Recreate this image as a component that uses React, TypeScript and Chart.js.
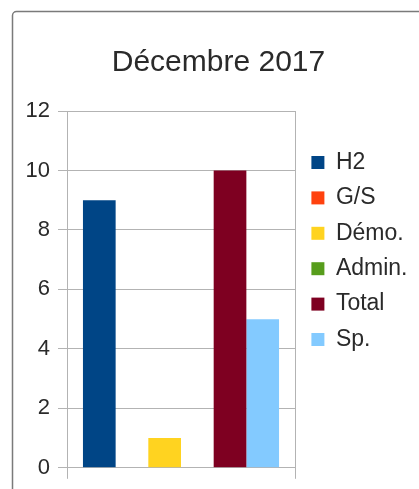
import React, { useEffect, useRef } from "react";
import { Chart, registerables } from "chart.js";

Chart.register(...registerables);

const categories = [""];
const seriesNames = ["H2", "G/S", "Démo.", "Admin.", "Total", "Sp."];
const seriesValues = [[9], [0], [1], [0], [10], [5]];
const seriesColors = ["#004586", "#ff420e", "#ffd320", "#579d1c", "#7e0021", "#83caff"];
const yTicks = [0, 2, 4, 6, 8, 10, 12];
const titleText = "Décembre 2017";

const framePlugin = {
  id: "frame",
  beforeUpdate(chart: any) {
    const lg = chart.legend;
    if (lg && !lg.__patched) {
      const orig = lg.fit;
      lg.fit = function () {
        orig.call(this);
        this.width = 112;
      };
      lg.__patched = true;
    }
  },
  afterLayout(chart: any) {
    const t = chart.titleBlock;
    if (t) {
      t.left += 9;
      t.right += 9;
    }
    const lg = chart.legend;
    if (lg) {
      lg.left += 4;
      lg.right += 4;
    }
  },
  beforeDraw(chart: any) {
    const ctx = chart.ctx;
    ctx.save();
    ctx.fillStyle = "#ffffff";
    ctx.fillRect(0, 0, chart.width, chart.height);
    ctx.strokeStyle = "#7a7a7a";
    ctx.lineWidth = 1.5;
    ctx.beginPath();
    (ctx as any).roundRect(12.5, 11.5, 440, 500, 4);
    ctx.stroke();
    ctx.restore();
  },
};

export default function App() {
  const ref = useRef<HTMLCanvasElement>(null);
  useEffect(() => {
    if (!ref.current) return;
    const font = "'Liberation Sans', Arial, sans-serif";
    const chart = new Chart(ref.current, {
      type: "bar",
      data: {
        labels: categories,
        datasets: seriesNames.map((name, i) => ({
          label: name,
          data: seriesValues[i],
          backgroundColor: seriesColors[i],
          borderWidth: 0,
          categoryPercentage: 0.86,
          barPercentage: 1,
        })),
      },
      options: {
        animation: false,
        responsive: false,
        devicePixelRatio: 1,
        layout: { padding: { left: 12, right: 12, top: 22, bottom: 9 } },
        plugins: {
          title: {
            display: true,
            text: titleText,
            color: "#2a2a2a",
            font: { family: font, size: 30, weight: "normal", lineHeight: 1.2 },
            padding: { top: 22.5, bottom: 30.5 },
          },
          legend: {
            display: true,
            position: "right",
            labels: {
              color: "#2a2a2a",
              font: { family: font, size: 23 },
              boxWidth: 13,
              boxHeight: 13,
              padding: 12.4,
            },
          },
          tooltip: { enabled: false },
        },
        scales: {
          x: {
            offset: true,
            grid: { display: true, offset: true, color: "#b3b3b3", tickLength: 11, drawTicks: true },
            border: { display: false },
            ticks: { display: false },
          },
          y: {
            min: 0,
            max: 12,
            afterFit: (s: any) => { s.width = 55; },
            afterBuildTicks: (s: any) => { s.ticks = yTicks.map((v) => ({ value: v })); },
            grid: { color: "#b3b3b3", tickLength: 9 },
            border: { display: false },
            ticks: {
              color: "#2a2a2a",
              font: { family: font, size: 22 },
              padding: 8,
            },
          },
        },
      },
      plugins: [framePlugin],
    });
    return () => chart.destroy();
  }, []);
  return (
    <div style={{ position: "absolute", left: 0, top: 0, width: 419, height: 489, overflow: "hidden", background: "#fff" }}>
      <canvas ref={ref} width={419} height={489} style={{ display: "block" }} />
    </div>
  );
}
